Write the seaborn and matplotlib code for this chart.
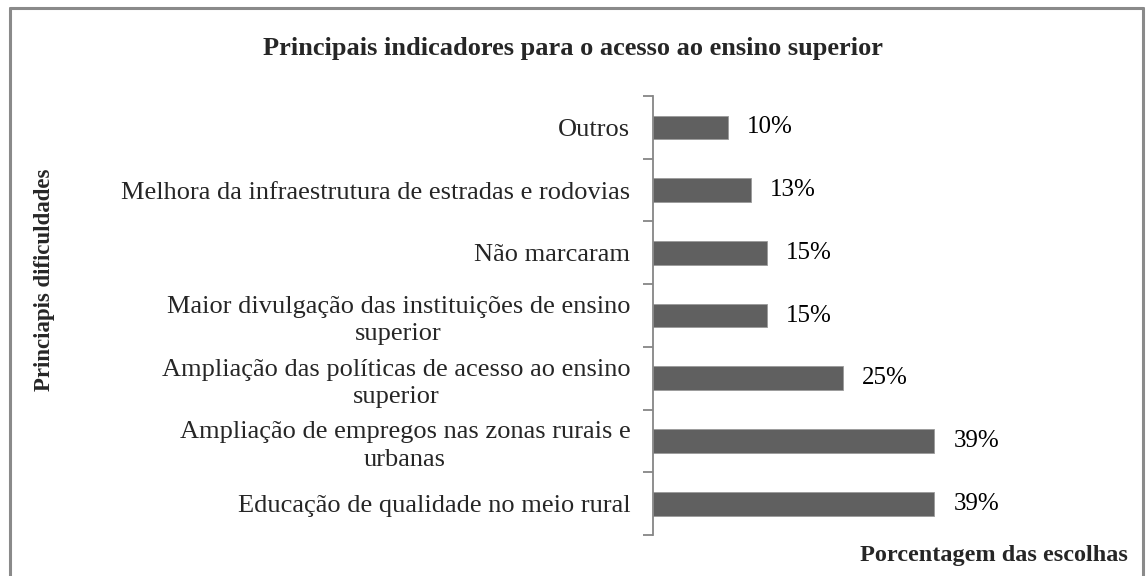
import matplotlib
matplotlib.use("Agg")
import matplotlib.pyplot as plt
from matplotlib.lines import Line2D
import seaborn as sns
import pandas as pd

# categories top -> bottom
categories = [
    "Outros",
    "Melhora da infraestrutura de estradas e rodovias",
    "Não marcaram",
    "Maior divulgação das instituições de ensino\nsuperior",
    "Ampliação das políticas de acesso ao ensino\nsuperior",
    "Ampliação de empregos nas zonas rurais e\nurbanas",
    "Educação de qualidade no meio rural",
]
# bar lengths as drawn in the picture (percent scale)
bar_values = [9.9, 12.9, 15, 15, 25, 37.1, 37.1]
# data labels as printed
value_labels = ["10%", "13%", "15%", "15%", "25%", "39%", "39%"]

df = pd.DataFrame({"categoria": categories, "valor": bar_values})

sns.set_style("white")
plt.rcParams["font.family"] = ["Liberation Serif", "DejaVu Serif"]

fig = plt.figure(figsize=(11.46, 5.76), dpi=100)
ax = fig.add_axes([0.570, 0.0712, 0.40, 0.762])

sns.barplot(data=df, y="categoria", x="valor", orient="h", color="#606060",
            width=0.38, saturation=1, edgecolor="#9a9a9a", linewidth=0.6, ax=ax)

ax.set_xlim(0, 60.5)
ax.set_ylim(len(categories) - 0.5, -0.5)

for i, (v, lab) in enumerate(zip(bar_values, value_labels)):
    ax.text(v + 2.5, i, lab, va="center", ha="left", fontsize=18, color="black")

# spines: only left axis
for s in ["top", "right", "bottom"]:
    ax.spines[s].set_visible(False)
ax.spines["left"].set_color("#868686")
ax.spines["left"].set_linewidth(1.3)

ax.set_xticks([])
ax.set_yticks(range(len(categories)))
ax.set_yticklabels(categories, fontsize=19, multialignment="center",
                   linespacing=1.3)
ax.tick_params(axis="y", which="major", left=True, length=0, pad=16.5)
ax.set_yticks([i - 0.5 for i in range(len(categories) + 1)], minor=True)
ax.tick_params(axis="y", which="minor", left=True, length=7, width=1.3,
               color="#868686", direction="out")
ax.set_xlabel("")
ax.set_ylabel("")

fig.text(0.5, 0.915, "Principais indicadores para o acesso ao ensino superior",
         ha="center", va="center", fontsize=19, fontweight="bold")
fig.text(0.039, 0.515, "Princiapis dificuldades", rotation=90,
         ha="center", va="center", fontsize=16.5, fontweight="bold")
fig.text(0.984, 0.035, "Porcentagem das escolhas", ha="right", va="center",
         fontsize=17.5, fontweight="bold")

# chart-area border (left, top, right)
border = dict(color="#8a8a8a", linewidth=2.2, transform=fig.transFigure)
fig.add_artist(Line2D([0.0085, 0.0085], [0.0, 0.986], **border))
fig.add_artist(Line2D([0.0085, 0.9975], [0.986, 0.986], **border))
fig.add_artist(Line2D([0.9975, 0.9975], [0.0, 0.986], **border))

fig.savefig("out.png", dpi=100)
